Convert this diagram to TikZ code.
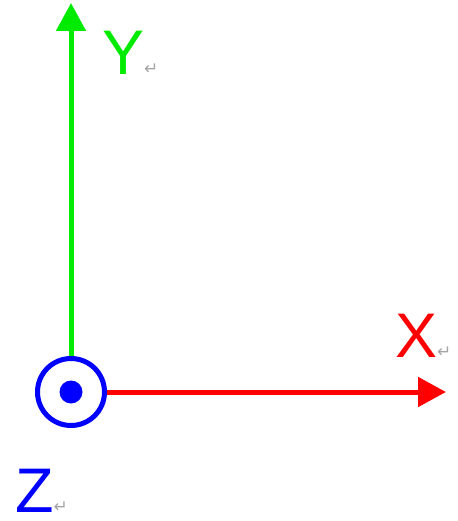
\documentclass[tikz,border=0pt]{standalone}
\usepackage{fontspec}
\setmainfont{Liberation Sans}
\newfontfamily\markfont{DejaVu Sans}
\usetikzlibrary{arrows.meta}

\definecolor{axisgreen}{RGB}{0,235,0}
\definecolor{retgray}{RGB}{165,165,165}
\newcommand{\retsign}{{\color{retgray}\markfont\fontsize{17}{17}\selectfont ↵}}

\begin{document}
\begin{tikzpicture}[x=1pt, y=1pt,
      axis/.style={line width=5pt, -{Triangle[length=28pt, width=29pt]}},
      lbl/.style={anchor=base west, inner sep=0pt, text depth=0pt, font=\fontsize{63}{63}\selectfont}]
    \useasboundingbox (0,0) rectangle (457,-521);
    % origin: z axis points out of the page
    \node[circle, draw=blue, line width=5pt, minimum size=67pt, inner sep=0pt] (o) at (71,-392) {};
    \node[circle, fill=blue, minimum size=23pt, inner sep=0pt] (dot) at (o) {};
    \coordinate (xend) at (446,-392);
    \coordinate (yend) at (71,-3);
    \draw[axis, red] (o.east) -- (xend);
    \draw[axis, axisgreen] (o.north) -- (yend);
    % labels
    \node[lbl, text=axisgreen] (ylbl) at (102,-75) {Y\retsign};
    \node[lbl, text=red] (xlbl) at (395,-357) {X\retsign};
    \node[lbl, text=blue] (zlbl) at (15,-512) {Z\retsign};
\end{tikzpicture}
\end{document}
